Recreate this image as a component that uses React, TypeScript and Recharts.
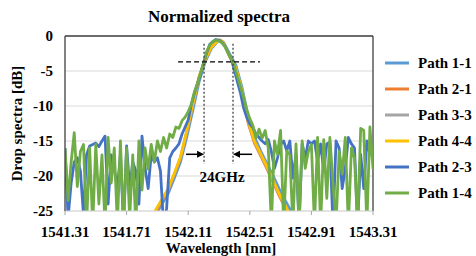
import React from 'react';
import { LineChart, Line, XAxis, YAxis, CartesianGrid, ReferenceLine, Label } from 'recharts';

const FONT = '"Liberation Serif", "Times New Roman", serif';

// ---- axes ----
const xTicks = [1541.31, 1541.71, 1542.11, 1542.51, 1542.91, 1543.31];
const yTicks = [-25, -20, -15, -10, -5, 0];
const xDomain = [1541.31, 1543.31];
const yDomain = [-25, 0];

// ---- series meta ----
const seriesNames = ['Path 1-1', 'Path 2-1', 'Path 3-3', 'Path 4-4', 'Path 2-3', 'Path 1-4'];
const seriesColors = ['#5B9BD5', '#ED7D31', '#A5A5A5', '#FFC000', '#4472C4', '#70AD47'];

// ---- smooth (filtered) spectra ----
const smoothLambda = [
  1541.86, 1541.9, 1541.94, 1541.98, 1542.02, 1542.06, 1542.1, 1542.14, 1542.18, 1542.22,
  1542.26, 1542.3, 1542.32, 1542.34, 1542.38, 1542.42, 1542.46, 1542.5, 1542.54, 1542.58,
  1542.62, 1542.66, 1542.7, 1542.74, 1542.78, 1542.82,
];
const path11 = [-27.5, -25.5, -24, -22.5, -20.3, -18, -14.5, -10.6, -6.6, -3.7, -1.8, -0.8, -0.6, -0.9, -2.6, -4.2, -7.4, -11.6, -14.4, -16.4, -18.2, -19.9, -21.8, -23.5, -25.1, -26.8];
const path21 = [-27.2, -25.2, -23.5, -22, -19.8, -17.5, -13.8, -9.9, -6.0, -3.4, -1.6, -0.7, -0.6, -1.0, -3.0, -4.8, -8.2, -12.5, -15.3, -17.1, -18.9, -20.8, -22.8, -24.5, -26.3, -27.8];
const path33 = [-27, -24.9, -23.4, -21.9, -19.7, -17.4, -13.7, -9.8, -5.9, -3.3, -1.6, -0.7, -0.6, -1.0, -2.9, -4.7, -8.0, -12.3, -15.1, -16.9, -18.7, -20.6, -22.6, -24.3, -26.1, -27.6];
const path44 = [-27, -24.8, -23.3, -21.8, -19.6, -17.3, -13.6, -9.7, -5.9, -3.3, -1.6, -0.7, -0.6, -1.0, -2.9, -4.6, -7.9, -12.2, -15, -16.8, -18.6, -20.5, -22.5, -24.2, -26, -27.5];

// ---- noisy (unfiltered) spectra ----
const noisyLambda = [
  1541.31, 1541.33, 1541.35, 1541.37, 1541.39, 1541.41, 1541.43, 1541.45, 1541.47, 1541.49,
  1541.51, 1541.53, 1541.55, 1541.57, 1541.59, 1541.61, 1541.63, 1541.65, 1541.67, 1541.69,
  1541.71, 1541.73, 1541.75, 1541.77, 1541.79, 1541.81, 1541.83, 1541.85, 1541.87, 1541.89,
  1541.91, 1541.93, 1541.95, 1541.97, 1541.99, 1542.01, 1542.03, 1542.05, 1542.07, 1542.09,
  1542.11, 1542.13, 1542.15, 1542.17, 1542.19, 1542.21, 1542.23, 1542.25, 1542.27, 1542.29,
  1542.31, 1542.33, 1542.35, 1542.37, 1542.39, 1542.41, 1542.43, 1542.45, 1542.47, 1542.49,
  1542.51, 1542.53, 1542.55, 1542.57, 1542.59, 1542.61, 1542.63, 1542.65, 1542.67, 1542.69,
  1542.71, 1542.73, 1542.75, 1542.77, 1542.79, 1542.81, 1542.83, 1542.85, 1542.87, 1542.89,
  1542.91, 1542.93, 1542.95, 1542.97, 1542.99, 1543.01, 1543.03, 1543.05, 1543.07, 1543.09,
  1543.11, 1543.13, 1543.15, 1543.17, 1543.19, 1543.21, 1543.23, 1543.25, 1543.27, 1543.29,
  1543.31,
];
const path23 = [
  -16, -26, -21, -18, -17.4, -19.3, -25.5, -17, -15.7, -15.5,
  -15.3, -15.8, -15, -14.3, -24, -17, -19, -21.8, -16.9, -27,
  -15.7, -21.8, -18, -19.3, -24, -14.3, -18.9, -21.8, -16.9, -18,
  -17.4, -19.3, -27, -24.6, -17.4, -16.5, -16, -15.4, -14, -13,
  -12, -9.8, -8.2, -6.8, -5.5, -3.8, -2.4, -1.2, -0.8, -0.5,
  -0.6, -0.9, -1.5, -2.4, -3.3, -4.9, -6.6, -8.2, -10.3, -11.6,
  -12.6, -13.1, -14, -14.5, -15, -15.4, -14.8, -16.5, -18.9, -17.4,
  -15.5, -15, -16.4, -15, -20.3, -16.9, -27, -15.4, -17.5, -15,
  -15.4, -15, -17.9, -15.4, -19.3, -15.4, -15.2, -27, -15, -16,
  -21.8, -18.9, -14.5, -15.4, -16, -27, -16.9, -21.8, -15, -16.9,
  -16.5,
];
const path14 = [
  -16, -23.5, -18, -13.8, -21.5, -16.5, -15.5, -27, -16, -27,
  -15.5, -24, -17, -27, -14.5, -21, -16, -27, -15, -27,
  -16, -26, -17, -27, -15, -22, -16, -19, -15.5, -18,
  -15, -16.5, -14.5, -16, -14, -14.5, -13, -13.2, -12.1, -11.6,
  -10.8, -9.8, -8, -6.8, -5.3, -3.9, -2.2, -1.3, -0.8, -0.6,
  -0.7, -1.0, -1.6, -2.5, -3.3, -4.3, -5.8, -7.3, -8.8, -10.5,
  -11.8, -12.8, -14.6, -13.3, -14.6, -13.5, -16, -27, -15, -16.9,
  -13.5, -27, -16.4, -17, -27, -15.4, -27, -15, -18.9, -16.5,
  -15.5, -27, -14.5, -27, -14.8, -23.2, -14.5, -21, -27, -16.5,
  -19.7, -14.5, -27, -16, -17.5, -27, -13.2, -13.5, -27, -13,
  -19,
];

// ---- annotations ----
const halfPowerLevel = -3.7;
const halfPowerSpan = [1542.044, 1542.576];
const bandEdges = [1542.213, 1542.401];
const bandEdgeSpan = [-1.1, -18.3];
const arrowLevel = -16.9;
const arrowTails = [1542.096, 1542.525];
const bandwidthText = '24GHz';
const bandwidthPos = { x: 1542.33, y: -20.9 };

const toPoints = (xs: number[], ys: number[]) => xs.map((x, i) => ({ x, y: ys[i] }));

const seriesData = [
  toPoints(smoothLambda, path11),
  toPoints(smoothLambda, path21),
  toPoints(smoothLambda, path33),
  toPoints(smoothLambda, path44),
  toPoints(noisyLambda, path23),
  toPoints(noisyLambda, path14),
];

const ArrowShape = (props: any) => {
  const { x1, y1, x2, y2 } = props;
  const dir = Math.sign(x2 - x1) || 1;
  const head = 7;
  return (
    <g>
      <line x1={x1} y1={y1} x2={x2 - dir * head} y2={y2} stroke="#000" strokeWidth={1.5} />
      <polygon points={`${x2},${y2} ${x2 - dir * head},${y2 - 3.5} ${x2 - dir * head},${y2 + 3.5}`} fill="#000" />
    </g>
  );
};

const TextShape = (props: any) => (
  <text x={props.x1} y={props.y1} textAnchor="middle" fontFamily={FONT} fontWeight={700} fontSize={15} fill="#000">
    {bandwidthText}
  </text>
);

const tickStyle = { fontFamily: FONT, fontSize: 15, fontWeight: 700, fill: '#000' };

export default function App() {
  return (
    <div style={{ position: 'absolute', left: 0, top: 0, width: 476, height: 256, background: '#fff' }}>
      <div style={{ position: 'absolute', left: 0, top: 0 }}>
        <LineChart width={476} height={256} margin={{ top: 36, right: 103, bottom: 0, left: 0 }}>
          <CartesianGrid vertical={false} stroke="#d9d9d9" strokeWidth={1} />
          <XAxis
            type="number"
            dataKey="x"
            domain={xDomain}
            ticks={xTicks}
            allowDataOverflow
            height={45}
            tickFormatter={(v: number) => v.toFixed(2)}
            tick={tickStyle}
            tickSize={4}
            tickMargin={11}
            axisLine={{ stroke: '#d9d9d9' }}
            tickLine={{ stroke: '#a6a6a6' }}
          >
            <Label
              content={(p: any) => {
                const vb = p.viewBox;
                return (
                  <text x={vb.x + vb.width / 2 + 2} y={vb.y + vb.height - 3} textAnchor="middle" fontFamily={FONT} fontWeight={700} fontSize={15} fill="#000">
                    Wavelength [nm]
                  </text>
                );
              }}
            />
          </XAxis>
          <YAxis
            type="number"
            domain={yDomain}
            ticks={yTicks}
            allowDataOverflow
            width={65}
            tick={tickStyle}
            tickLine={false}
            tickSize={0}
            tickMargin={12}
            axisLine={{ stroke: '#404040', strokeWidth: 1.3 }}
          >
            <Label
              content={(p: any) => {
                const vb = p.viewBox;
                const cx = 22;
                const cy = vb.y + vb.height / 2;
                return (
                  <text x={cx} y={cy} transform={`rotate(-90 ${cx} ${cy})`} textAnchor="middle" fontFamily={FONT} fontWeight={700} fontSize={15} fill="#000">
                    Drop spectra [dB]
                  </text>
                );
              }}
            />
          </YAxis>
          <ReferenceLine y={0} stroke="#404040" strokeWidth={1.3} />
          <ReferenceLine x={xDomain[1]} stroke="#404040" strokeWidth={1.3} />
          {seriesNames.map((name, i) => (
            <Line
              key={name}
              data={seriesData[i]}
              dataKey="y"
              name={name}
              type="linear"
              stroke={seriesColors[i]}
              strokeWidth={2.8}
              strokeLinejoin="round"
              dot={false}
              activeDot={false}
              isAnimationActive={false}
            />
          ))}
          <ReferenceLine
            segment={[{ x: halfPowerSpan[0], y: halfPowerLevel }, { x: halfPowerSpan[1], y: halfPowerLevel }]}
            stroke="#000"
            strokeWidth={1.3}
            strokeDasharray="5 3"
          />
          {bandEdges.map((b) => (
            <ReferenceLine
              key={b}
              segment={[{ x: b, y: bandEdgeSpan[0] }, { x: b, y: bandEdgeSpan[1] }]}
              stroke="#404040"
              strokeWidth={1.3}
              strokeDasharray="2 2"
            />
          ))}
          <ReferenceLine
            segment={[{ x: arrowTails[0], y: arrowLevel }, { x: bandEdges[0], y: arrowLevel }]}
            shape={ArrowShape}
          />
          <ReferenceLine
            segment={[{ x: arrowTails[1], y: arrowLevel }, { x: bandEdges[1], y: arrowLevel }]}
            shape={ArrowShape}
          />
          <ReferenceLine
            segment={[{ x: bandwidthPos.x, y: bandwidthPos.y }, { x: bandwidthPos.x + 0.001, y: bandwidthPos.y }]}
            shape={TextShape}
          />
        </LineChart>
      </div>
      <svg width={476} height={256} style={{ position: 'absolute', left: 0, top: 0, pointerEvents: 'none' }}>
        <text x={219} y={22} textAnchor="middle" fontFamily={FONT} fontWeight={700} fontSize={17} fill="#000">
          Normalized spectra
        </text>
        {seriesNames.map((name, i) => {
          const cy = 63 + i * 26;
          return (
            <g key={name}>
              <line x1={385} x2={409} y1={cy} y2={cy} stroke={seriesColors[i]} strokeWidth={3} />
              <text x={418} y={cy + 5} fontFamily={FONT} fontWeight={700} fontSize={15} fill="#000">
                {name}
              </text>
            </g>
          );
        })}
      </svg>
    </div>
  );
}
